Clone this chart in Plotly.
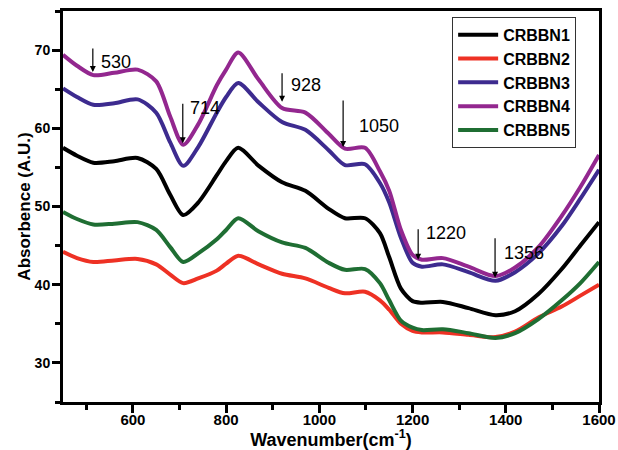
import plotly.graph_objects as go

wavenumber = [450, 480, 515, 560, 610, 650, 680, 708, 740, 780, 800, 826, 870, 920, 970,
              1020, 1055, 1098, 1130, 1150, 1175, 1200, 1220, 1265, 1320, 1378, 1420, 1470,
              1520, 1560, 1600]

crbbn1 = [57.5, 56.5, 55.6, 55.8, 56.2, 54.8, 51.5, 48.9, 50.5, 54.0, 55.8, 57.5, 55.2, 53.1, 52.0,
          49.7, 48.5, 48.5, 46.6, 43.5, 39.5, 37.9, 37.7, 37.8, 37.0, 36.1, 36.6, 38.8,
          42.0, 45.0, 48.0]
crbbn2 = [44.2, 43.4, 42.9, 43.1, 43.3, 42.6, 41.3, 40.2, 40.8, 41.8, 42.7, 43.7, 42.6, 41.4, 40.8,
          39.6, 38.9, 39.1, 38.0, 36.8, 35.0, 34.1, 33.9, 33.9, 33.6, 33.3, 34.0, 35.8,
          37.2, 38.6, 40.0]
crbbn3 = [65.1, 64.0, 63.0, 63.2, 63.7, 62.0, 58.2, 55.2, 57.6, 62.0, 64.0, 65.8, 63.3, 60.8, 59.8,
          57.2, 55.3, 55.4, 53.0, 50.5, 46.0, 42.8, 42.3, 42.6, 41.6, 40.5, 41.6, 44.0,
          47.5, 51.0, 54.7]
crbbn4 = [69.4, 68.0, 66.8, 67.1, 67.5, 66.0, 61.5, 57.9, 60.5, 65.5, 67.5, 69.7, 66.2, 62.6, 62.0,
          59.3, 57.4, 57.5, 54.5, 52.0, 47.0, 43.8, 43.2, 43.4, 42.3, 41.1, 42.2, 44.8,
          48.8, 52.5, 56.6]
crbbn5 = [49.3, 48.4, 47.7, 47.8, 48.0, 47.0, 44.8, 42.9, 44.0, 45.8, 47.0, 48.5, 46.8, 45.4, 44.7,
          42.8, 41.9, 42.0, 40.2, 38.0, 35.4, 34.5, 34.2, 34.3, 33.8, 33.2, 33.8, 35.6,
          38.0, 40.2, 42.9]

series_names = ["CRBBN1", "CRBBN2", "CRBBN3", "CRBBN4", "CRBBN5"]
series_values = [crbbn1, crbbn2, crbbn3, crbbn4, crbbn5]
series_colors = ["#000000", "#ee3124", "#3d2b8f", "#93278f", "#1f6e33"]

# peak markers: label, arrow tip (wavenumber, value), arrow length px, label position
peak_labels = ["530", "714", "928", "1050", "1220", "1356"]
peak_tip_x = [514, 707, 920, 1051, 1212, 1377]
peak_tip_y = [67.2, 58.1, 63.4, 57.6, 43.2, 40.9]
peak_arrow_len = [25, 41, 30, 48, 32, 41]
peak_text_x = [527, 718, 935, 1081, 1224, 1392]
peak_text_y = [68.5, 62.6, 65.5, 60.3, 46.6, 44.05]

fig = go.Figure()
for name, vals, col in zip(series_names, series_values, series_colors):
    fig.add_trace(go.Scatter(x=wavenumber, y=vals, name=name, mode="lines",
                             line=dict(color=col, width=4, shape="spline", smoothing=0.8)))

annotations = []
for lab, tx, ty, al, lx, ly in zip(peak_labels, peak_tip_x, peak_tip_y, peak_arrow_len,
                                  peak_text_x, peak_text_y):
    annotations.append(dict(x=tx, y=ty, xref="x", yref="y", text="", showarrow=True,
                            ax=0, ay=-al, arrowhead=2, arrowsize=1, arrowwidth=1.2,
                            arrowcolor="#000000", standoff=0))
    annotations.append(dict(x=lx, y=ly, xref="x", yref="y", text=lab, showarrow=False,
                            xanchor="left", yanchor="middle",
                            font=dict(family="Liberation Sans, Arial", size=18, color="#000000")))

bold = dict(family="Liberation Sans, Arial", color="#000000", weight="bold")

fig.update_layout(
    width=618, height=450,
    margin=dict(l=63, r=19, t=11, b=48, autoexpand=False),
    paper_bgcolor="white", plot_bgcolor="white",
    showlegend=True,
    legend=dict(x=0.726, y=0.985, xanchor="left", yanchor="top",
                bgcolor="white", bordercolor="#333333", borderwidth=1,
                font=dict(size=16, **bold), tracegroupgap=0, itemwidth=40),
    annotations=annotations,
)
fig.update_xaxes(range=[450, 1600], tick0=600, dtick=200, ticks="outside", ticklen=8,
                 tickwidth=2.5, tickcolor="#000000", automargin=False, ticklabelstandoff=-6,
                 minor=dict(dtick=100, ticks="outside", ticklen=5, tickwidth=2.5, tickcolor="#000000"),
                 showline=True, linewidth=3, linecolor="#000000", mirror=True,
                 showgrid=False, zeroline=False,
                 tickfont=dict(size=15, **bold),
                 title=dict(text="Wavenumber(cm<sup>-1</sup>)", font=dict(size=18, **bold), standoff=2))
fig.update_yaxes(range=[25, 75], tick0=30, dtick=10, ticks="outside", ticklen=8,
                 tickwidth=2.5, tickcolor="#000000", automargin=False, ticklabelstandoff=-1,
                 minor=dict(dtick=5, ticks="outside", ticklen=5, tickwidth=2.5, tickcolor="#000000"),
                 showline=True, linewidth=3, linecolor="#000000", mirror=True,
                 showgrid=False, zeroline=False,
                 tickfont=dict(size=14, **bold),
                 title=dict(text="Absorbence (A.U.)", font=dict(size=17, **bold), standoff=0))

fig.write_html("out.html")
